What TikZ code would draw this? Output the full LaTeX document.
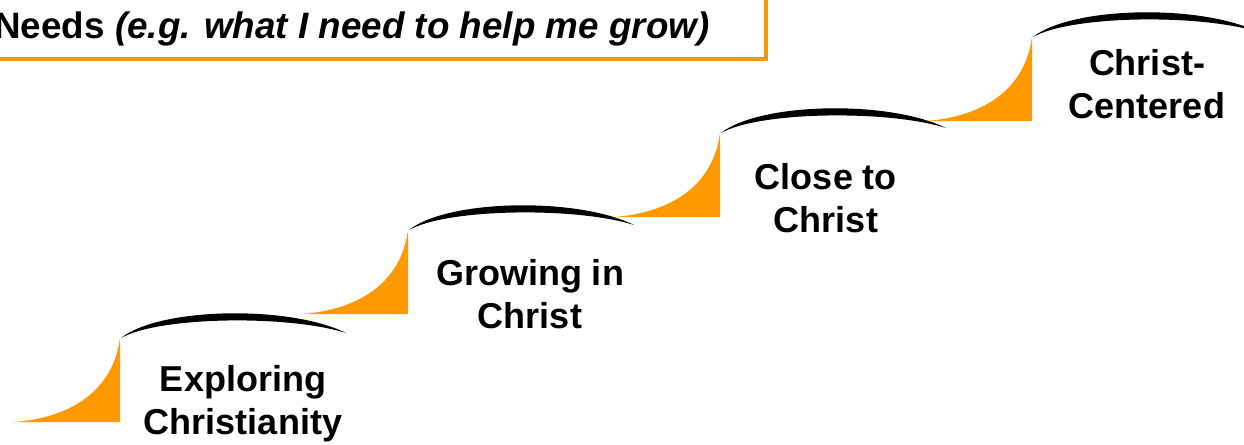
\documentclass[tikz,border=0pt]{standalone}
\usepackage{fontspec}
\setmainfont{Liberation Sans}
\usetikzlibrary{positioning}
\definecolor{stairorange}{RGB}{255,153,0}

% one stair: orange riser and black tread, hung on a coordinate
\newcommand{\stair}[1]{%
  \fill[stairorange, shift={(#1)}] (-107,84) .. controls (-60,81) and (-8,60) .. (0,0) -- (0,84) -- cycle;
  \fill[black, shift={(#1)}] (1,0) .. controls (40,-31) and (170,-33) .. (226,-5)
       .. controls (170,-23) and (40,-22) .. (1,0) -- cycle;
}

\begin{document}
\begin{tikzpicture}[x=0.5pt,y=-0.5pt,
    steptext/.style={font=\fontsize{18}{21.5}\selectfont\bfseries,align=center},
    headbox/.style={draw=stairorange,line width=1.75pt}]
    \useasboundingbox (0,0) rectangle (1244,445);
    \clip (0,0) rectangle (1244,445);

        \draw [headbox] (-10,-10) rectangle (766,59);
        \node [anchor=base west, inner sep=0pt, font=\fontsize{18.4}{22}\selectfont\bfseries] (needs) at (-6,38)
              {Needs \textit{(e.g. what I need to help me grow)}};

        \coordinate (s1) at (120,338);
        \coordinate (s2) at (408,230);
        \coordinate (s3) at (720,133);
        \coordinate (s4) at (1032,37);

        \stair{s1} \stair{s2} \stair{s3} \stair{s4}

        \node [steptext] (explore) at (243,404) {Exploring\\Christianity};
        \node [steptext] (grow) at (530,294) {Growing in\\Christ};
        \node [steptext] (close) at (826,198) {Close to\\Christ};
        \node [steptext] (centred) at (1147,84) {Christ-\\Centered};
\end{tikzpicture}
\end{document}
